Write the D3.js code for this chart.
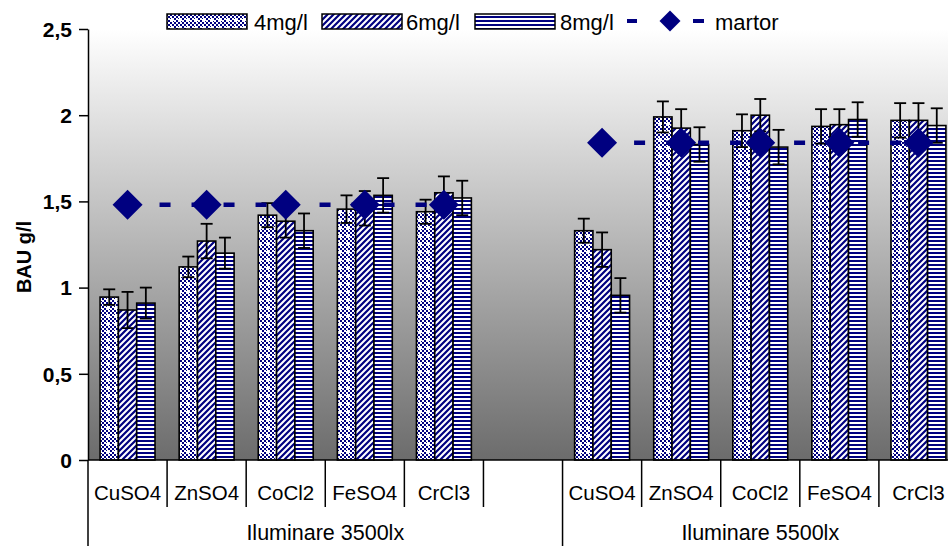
<!DOCTYPE html>
<html>
<head>
<meta charset="utf-8">
<script src="https://cdn.jsdelivr.net/npm/d3@7"></script>
<style>
  html, body { margin: 0; padding: 0; background: #fff; }
  svg { display: block; font-family: Arial, "Liberation Sans", sans-serif; }
</style>
</head>
<body>
<svg id="chart" width="948" height="546"></svg>
<script>
// Salt treatments per illumination level
const categories = ["CuSO4", "ZnSO4", "CoCl2", "FeSO4", "CrCl3"];
const groups = ["Iluminare 3500lx", "Iluminare 5500lx"];
const seriesNames = ["4mg/l", "6mg/l", "8mg/l"];
const controlName = "martor";

// BAU g/l, 3500 lx
const mg4_3500 = [0.945, 1.12, 1.42, 1.455, 1.44];
const mg6_3500 = [0.87, 1.27, 1.385, 1.46, 1.55];
const mg8_3500 = [0.91, 1.20, 1.33, 1.535, 1.52];
// BAU g/l, 5500 lx
const mg4_5500 = [1.33, 1.99, 1.91, 1.935, 1.97];
const mg6_5500 = [1.22, 1.925, 2.00, 1.945, 1.97];
const mg8_5500 = [0.955, 1.83, 1.815, 1.975, 1.94];

// standard errors
const err4_3500 = [0.045, 0.06, 0.07, 0.08, 0.07];
const err6_3500 = [0.105, 0.10, 0.095, 0.10, 0.095];
const err8_3500 = [0.09, 0.09, 0.10, 0.10, 0.10];
const err4_5500 = [0.07, 0.09, 0.095, 0.10, 0.10];
const err6_5500 = [0.10, 0.11, 0.094, 0.09, 0.10];
const err8_5500 = [0.10, 0.10, 0.10, 0.10, 0.10];

// control (martor) level per illumination
const martor = [1.48, 1.84];

const yTicks = [0, 0.5, 1, 1.5, 2, 2.5];
const yTickLabels = ["0", "0,5", "1", "1,5", "2", "2,5"];

// ---- build slots: 5 + empty + 5 ----
const slots = [];
categories.forEach((c, i) => slots.push({ key: "a" + i, cat: c, group: 0, i }));
slots.push({ key: "gap", cat: "", group: 0, i: -1 });
categories.forEach((c, i) => slots.push({ key: "b" + i, cat: c, group: 1, i }));

const values = [[mg4_3500, mg6_3500, mg8_3500], [mg4_5500, mg6_5500, mg8_5500]];
const errors = [[err4_3500, err6_3500, err8_3500], [err4_5500, err6_5500, err8_5500]];

const bars = [];
slots.forEach(s => {
  if (s.i < 0) return;
  seriesNames.forEach((sn, k) => {
    bars.push({ slot: s.key, series: sn, k, v: values[s.group][k][s.i], e: errors[s.group][k][s.i] });
  });
});

const svg = d3.select("#chart");
const navy = "#000080";

const plotLeft = 88, plotTop = 29, plotBottom = 460, plotRight = 958;
const x = d3.scaleBand().domain(slots.map(s => s.key)).range([plotLeft, plotRight]).paddingInner(0).paddingOuter(0);
const xs = d3.scaleBand().domain(seriesNames).range([0, x.bandwidth()]).paddingInner(0).paddingOuter(0.66);
const y = d3.scaleLinear().domain([0, 2.5]).range([plotBottom, plotTop]);

// ---- defs: gradient + fill patterns ----
const defs = svg.append("defs");
const grad = defs.append("linearGradient").attr("id", "bg").attr("x1", 0).attr("y1", 0).attr("x2", 0).attr("y2", 1);
grad.append("stop").attr("offset", "0%").attr("stop-color", "#ffffff");
grad.append("stop").attr("offset", "100%").attr("stop-color", "#6c6c6c");

// 4mg/l: fine navy checker with white sparkles
const p1 = defs.append("pattern").attr("id", "pat0").attr("patternUnits", "userSpaceOnUse")
  .attr("width", 8).attr("height", 8);
p1.append("rect").attr("width", 8).attr("height", 8).attr("fill", "#fff");
for (let i = 0; i < 4; i++) for (let j = 0; j < 4; j++) {
  if ((i + j) % 2 === 0) p1.append("rect").attr("x", i * 2).attr("y", j * 2).attr("width", 2).attr("height", 2).attr("fill", navy);
}
p1.append("rect").attr("x", 3).attr("y", 2).attr("width", 2).attr("height", 4).attr("fill", "#fff");
p1.append("rect").attr("x", 2).attr("y", 3).attr("width", 4).attr("height", 2).attr("fill", "#fff");

// 6mg/l: wide diagonal stripes
const p2 = defs.append("pattern").attr("id", "pat1").attr("patternUnits", "userSpaceOnUse")
  .attr("width", 6).attr("height", 6);
p2.append("rect").attr("width", 6).attr("height", 6).attr("fill", "#fff");
p2.append("path").attr("d", "M-1,7 L7,-1 M-4,4 L4,-4 M2,10 L10,2")
  .attr("stroke", navy).attr("stroke-width", 2.2);

// 8mg/l: horizontal lines
const p3 = defs.append("pattern").attr("id", "pat2").attr("patternUnits", "userSpaceOnUse")
  .attr("width", 4).attr("height", 4);
p3.append("rect").attr("width", 4).attr("height", 4).attr("fill", "#fff");
p3.append("rect").attr("y", 0).attr("width", 4).attr("height", 2).attr("fill", navy);

// ---- plot background ----
svg.append("rect").attr("x", plotLeft).attr("y", plotTop).attr("width", plotRight - plotLeft).attr("height", plotBottom - plotTop)
  .attr("fill", "url(#bg)");

// ---- bars ----
const barG = svg.append("g");
barG.selectAll("rect").data(bars).join("rect")
  .attr("x", d => x(d.slot) + xs(d.series))
  .attr("y", d => y(d.v))
  .attr("width", xs.bandwidth())
  .attr("height", d => y(0) - y(d.v))
  .attr("fill", d => `url(#pat${d.k})`)
  .attr("stroke", "#000").attr("stroke-width", 1.6);

// ---- error bars ----
const errG = svg.append("g").attr("stroke", "#000").attr("stroke-width", 1.8).attr("fill", "none");
const cap = 6;
bars.forEach(d => {
  const cx = x(d.slot) + xs(d.series) + xs.bandwidth() / 2;
  errG.append("line").attr("x1", cx).attr("x2", cx).attr("y1", y(d.v - d.e)).attr("y2", y(d.v + d.e));
  errG.append("line").attr("x1", cx - cap).attr("x2", cx + cap).attr("y1", y(d.v + d.e)).attr("y2", y(d.v + d.e));
  errG.append("line").attr("x1", cx - cap).attr("x2", cx + cap).attr("y1", y(d.v - d.e)).attr("y2", y(d.v - d.e));
});

// ---- control line (dashed) + diamonds ----
const ctrlPts = slots.map(s => ({ slot: s.key, v: s.i < 0 ? null : martor[s.group] }));
const line = d3.line().defined(d => d.v !== null)
  .x(d => x(d.slot) + x.bandwidth() / 2).y(d => y(d.v));
svg.append("path").datum(ctrlPts).attr("d", line)
  .attr("fill", "none").attr("stroke", navy).attr("stroke-width", 4.5).attr("stroke-dasharray", "11,21");
svg.append("g").selectAll("path").data(ctrlPts.filter(d => d.v !== null)).join("path")
  .attr("transform", d => `translate(${x(d.slot) + x.bandwidth() / 2},${y(d.v)}) rotate(45)`)
  .attr("d", d3.symbol().type(d3.symbolSquare).size(450))
  .attr("fill", navy);

// ---- y axis ----
const yAxis = d3.axisLeft(y).tickValues(yTicks).tickSize(9).tickSizeOuter(0)
  .tickFormat((d, i) => yTickLabels[i]);
const ya = svg.append("g").attr("transform", `translate(${plotLeft},0)`).call(yAxis);
ya.select(".domain").attr("stroke", "#000").attr("stroke-width", 1.5);
ya.selectAll(".tick line").attr("stroke", "#000").attr("stroke-width", 1.5);
ya.selectAll(".tick text").attr("font-size", 21).attr("font-weight", "bold").attr("fill", "#000")
  .attr("x", -16).attr("dy", "0.35em").attr("font-family", "Arial, 'Liberation Sans', sans-serif");

svg.append("text").attr("transform", "translate(31,257) rotate(-90)")
  .attr("text-anchor", "middle").attr("font-size", 20).attr("font-weight", "bold").text("BAU g/l");

// ---- category axis ----
svg.append("line").attr("x1", plotLeft).attr("x2", plotRight).attr("y1", plotBottom).attr("y2", plotBottom)
  .attr("stroke", "#000").attr("stroke-width", 1.5);
const catG = svg.append("g");
slots.forEach((s, idx) => {
  const xb = x(s.key) + x.bandwidth();
  if (idx !== 5) {
    catG.append("line").attr("x1", xb).attr("x2", xb).attr("y1", plotBottom).attr("y2", 507)
      .attr("stroke", "#000").attr("stroke-width", 1.5);
  }
  if (s.cat) {
    catG.append("text").attr("x", x(s.key) + x.bandwidth() / 2).attr("y", 500)
      .attr("text-anchor", "middle").attr("font-size", 20.5).attr("fill", "#000").text(s.cat);
  }
});
// group separators
[slots[0].key, slots[6].key].forEach(k => {
  catG.append("line").attr("x1", x(k)).attr("x2", x(k)).attr("y1", plotBottom).attr("y2", 546)
    .attr("stroke", "#000").attr("stroke-width", 1.5);
});
groups.forEach((g, gi) => {
  const s0 = gi === 0 ? slots[0].key : slots[6].key;
  const s1 = gi === 0 ? slots[5].key : slots[10].key;
  const cx = (x(s0) + x(s1) + x.bandwidth()) / 2;
  catG.append("text").attr("x", cx).attr("y", 540).attr("text-anchor", "middle")
    .attr("font-size", 21.5).attr("fill", "#000").text(g);
});

// ---- legend ----
const leg = svg.append("g");
const legItems = [
  { x: 167, tx: 254, label: seriesNames[0], k: 0 },
  { x: 322, tx: 406, label: seriesNames[1], k: 1 },
  { x: 475, tx: 560, label: seriesNames[2], k: 2 }
];
legItems.forEach(it => {
  leg.append("rect").attr("x", it.x).attr("y", 14).attr("width", 80).attr("height", 15)
    .attr("fill", `url(#pat${it.k})`).attr("stroke", "#000").attr("stroke-width", 1.5);
  leg.append("text").attr("x", it.tx).attr("y", 30).attr("font-size", 22).attr("fill", "#000").text(it.label);
});
leg.append("rect").attr("x", 627).attr("y", 19).attr("width", 10).attr("height", 4).attr("fill", navy);
leg.append("rect").attr("x", 693).attr("y", 19).attr("width", 11).attr("height", 4).attr("fill", navy);
leg.append("path").attr("transform", "translate(670,21) rotate(45)")
  .attr("d", d3.symbol().type(d3.symbolSquare).size(220)).attr("fill", navy);
leg.append("text").attr("x", 715).attr("y", 30).attr("font-size", 22).attr("fill", "#000").text(controlName);
</script>
</body>
</html>
